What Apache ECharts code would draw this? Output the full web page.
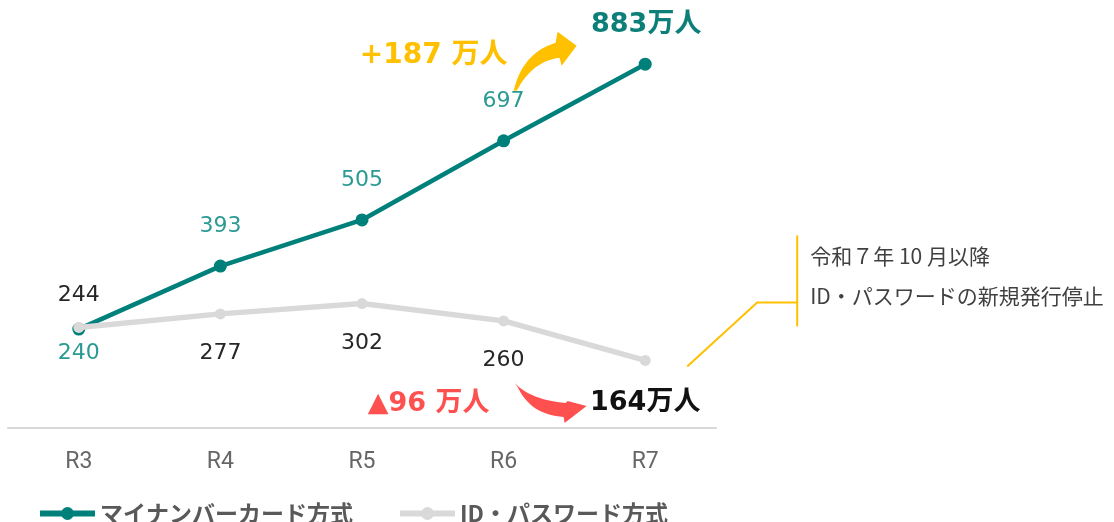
<!DOCTYPE html>
<html>
<head>
<meta charset="utf-8">
<script src="https://cdn.jsdelivr.net/npm/echarts@6/dist/echarts.min.js"></script>
<style>
  html, body { margin: 0; padding: 0; background: #fff; }
  #main { width: 1114px; height: 522px; }
</style>
</head>
<body>
<div id="main"></div>
<script>
// 年度
const years = ['R3', 'R4', 'R5', 'R6', 'R7'];
// 万人
const cardValues = [240, 393, 505, 697, 883];
const idValues = [244, 277, 302, 260, 164];
const seriesNames = ['マイナンバーカード方式', 'ID・パスワード方式'];
// 増減の注記（元資料の表記のまま）
const gainText = '+187 万人';
const lossText = '▲96 万人';
const noteLines = ['令和７年 10 月以降', 'ID・パスワードの新規発行停止'];

const TEAL = '#00807a';
const GRAY = '#d9d9d9';
const GOLD = '#ffc000';
const RED = '#ff5050';
const FONT = "'DejaVu Sans', 'Noto Sans CJK JP', sans-serif";
const JP = "'Noto Sans CJK JP', sans-serif";

// label placement per point (last point gets a big annotation instead)
const cardData = cardValues.map((v, i) => {
  if (i === cardValues.length - 1) return { value: v, label: { show: false } };
  if (i === 0) return { value: v, label: { position: 'bottom', distance: 7 } };
  return v;
});
const idData = idValues.map((v, i) => {
  if (i === idValues.length - 1) return { value: v, label: { show: false } };
  if (i === 0) return { value: v, label: { position: 'top', distance: 16 } };
  return v;
});

const chart = echarts.init(document.getElementById('main'));

chart.setOption({
  backgroundColor: '#fff',
  animation: false,
  textStyle: { fontFamily: FONT },
  grid: { left: 8, top: 16, width: 708, height: 412 },
  legend: {
    data: seriesNames,
    left: 37,
    top: 502,
    padding: 0,
    itemWidth: 55,
    itemHeight: 16,
    itemGap: 44,
    lineStyle: { width: 6 },
    textStyle: { color: '#595959', fontSize: 23, fontWeight: 'bold', fontFamily: JP }
  },
  xAxis: {
    type: 'category',
    data: years,
    axisLine: { lineStyle: { color: GRAY, width: 2 } },
    axisTick: { show: false },
    axisLabel: { color: '#666', fontSize: 23, margin: 23, fontFamily: 'Roboto' }
  },
  yAxis: {
    type: 'value',
    min: 0,
    max: 1000,
    show: false,
    splitLine: { show: false }
  },
  series: [
    {
      name: seriesNames[0],
      type: 'line',
      data: cardData,
      symbol: 'circle',
      symbolSize: 13,
      itemStyle: { color: TEAL },
      lineStyle: { color: TEAL, width: 4.5 },
      label: { show: true, position: 'top', distance: 22, color: '#2b9a92', fontSize: 22 },
      z: 2
    },
    {
      name: seriesNames[1],
      type: 'line',
      data: idData,
      symbol: 'circle',
      symbolSize: 11,
      itemStyle: { color: GRAY },
      lineStyle: { color: GRAY, width: 5.5 },
      label: { show: true, position: 'bottom', distance: 23, color: '#262626', fontSize: 22 },
      z: 3
    }
  ]
});

// sample a quadratic curve into polygon points
function quad(p0, c, p1, n) {
  const pts = [];
  for (let k = 0; k <= n; k++) {
    const t = k / n, u = 1 - t;
    pts.push([u * u * p0[0] + 2 * u * t * c[0] + t * t * p1[0],
              u * u * p0[1] + 2 * u * t * c[1] + t * t * p1[1]]);
  }
  return pts;
}

// annotations anchored to data points
const last = years.length - 1;
const cardLast = chart.convertToPixel({ seriesIndex: 0 }, [last, cardValues[last]]);
const cardPrev = chart.convertToPixel({ seriesIndex: 0 }, [last - 1, cardValues[last - 1]]);
const idLast = chart.convertToPixel({ seriesIndex: 1 }, [last, idValues[last]]);
const idPrev = chart.convertToPixel({ seriesIndex: 1 }, [last - 1, idValues[last - 1]]);

const goldArrow = [].concat(
  quad([10, -50], [19, -88], [52, -98], 16),
  [[54, -109], [73, -95], [58, -75]],
  quad([56, -83], [29, -80], [13, -50], 16)
);
const redArrow = [].concat(
  quad([11, 62], [27, 79], [62, 82], 16),
  [[64, 80], [83, 85], [61, 102]],
  quad([60, 96], [27, 94], [14, 66], 16)
);

function txt(x, y, text, fill, size, align, weight, family) {
  return {
    type: 'text', x: x, y: y, z: 10,
    style: {
      text: text, fill: fill, fontSize: size, fontWeight: weight || 'bold',
      fontFamily: family || FONT, textAlign: align || 'center', textVerticalAlign: 'middle'
    }
  };
}

chart.setOption({
  graphic: [
    txt(cardLast[0] + 1, cardLast[1] - 39, cardValues[last] + '万人', '#0b7f78', 27),
    txt(cardPrev[0] - 70, cardPrev[1] - 85, gainText, GOLD, 28),
    { type: 'polygon', x: cardPrev[0], y: cardPrev[1], z: 10, shape: { points: goldArrow }, style: { fill: GOLD } },
    txt(idPrev[0] - 75, idPrev[1] + 83, lossText, RED, 27),
    { type: 'polygon', x: idPrev[0], y: idPrev[1], z: 10, shape: { points: redArrow }, style: { fill: RED } },
    txt(idLast[0], idLast[1] + 43, idValues[last] + '万人', '#111', 27),
    {
      type: 'polyline', x: idLast[0], y: idLast[1], z: 10,
      shape: { points: [[42, 6], [112, -58], [152, -58]] },
      style: { stroke: GOLD, lineWidth: 2, fill: null }
    },
    {
      type: 'line', x: idLast[0], y: idLast[1], z: 10,
      shape: { x1: 152, y1: -125, x2: 152, y2: -34 },
      style: { stroke: GOLD, lineWidth: 2 }
    },
    txt(idLast[0] + 165, idLast[1] - 104, noteLines[0], '#404040', 21, 'left', 'normal', JP),
    txt(idLast[0] + 165, idLast[1] - 64, noteLines[1], '#404040', 21, 'left', 'normal', JP)
  ]
});
</script>
</body>
</html>
